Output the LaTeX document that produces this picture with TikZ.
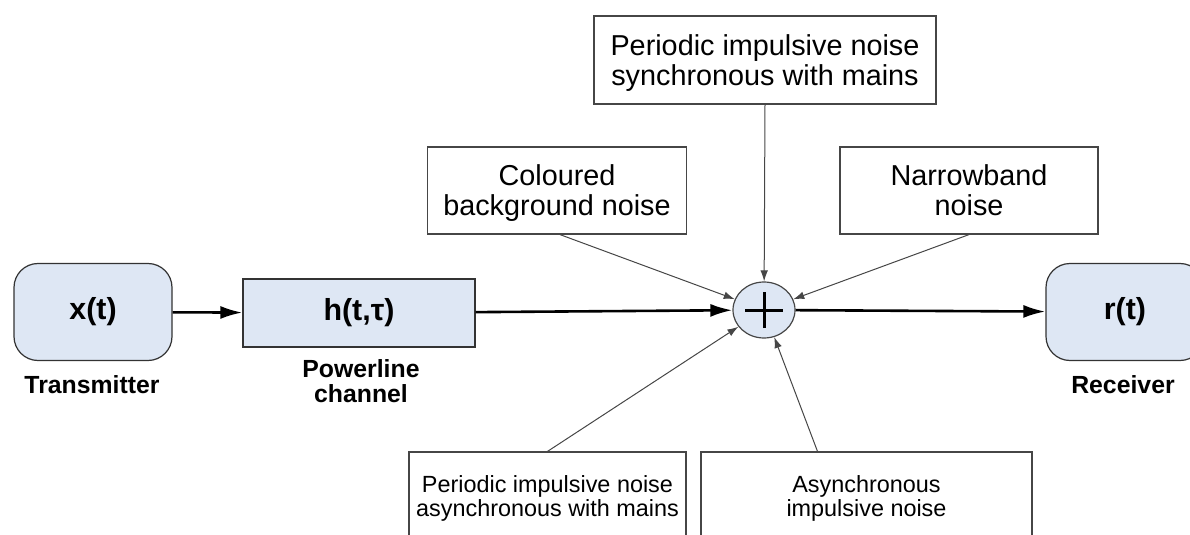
\documentclass[tikz,border=0pt]{standalone}
\usepackage{fontspec}
\setmainfont{Liberation Sans}
\usetikzlibrary{arrows.meta, shapes.geometric}
\definecolor{boxfill}{RGB}{222,231,244}
\definecolor{thinline}{RGB}{70,70,70}
\tikzset{
  noisebox/.style={draw=thinline, line width=0.6pt, fill=white, align=center, inner sep=0pt,
    text depth=0pt, font=\fontsize{14.4}{15}\selectfont},
  smallnoise/.style={noisebox, font=\fontsize{11.7}{12}\selectfont},
  blockbox/.style={draw=black!80, line width=0.6pt, fill=boxfill, inner sep=0pt,
    font=\fontsize{15.2}{17}\selectfont\bfseries},
  caption/.style={align=center, inner sep=0pt, font=\fontsize{12.4}{12.5}\selectfont\bfseries},
  mainflow/.style={-{Latex[length=11pt,width=6.5pt]}, line width=1.3pt},
  noiseflow/.style={-{Latex[length=5.5pt,width=3.8pt]}, line width=0.5pt, draw=thinline}
}
\begin{document}
\begin{tikzpicture}[x=0.5pt, y=-0.5pt]
  \useasboundingbox (0,0) rectangle (1190,535);
  \clip (0,0) rectangle (1190,535);
  % blocks of the chain
  \node[blockbox, rounded corners=12pt, minimum width=79pt, minimum height=48.5pt] (tx) at (93,312) {x(t)};
  \node[blockbox, minimum width=116pt, minimum height=34pt] (ch) at (359,313) {h(t,τ)};
  \node[draw=thinline, line width=0.6pt, fill=boxfill, ellipse, minimum width=31pt, minimum height=28pt, inner sep=0pt] (sum) at (764,310) {};
  \node[blockbox, rounded corners=12pt, minimum width=79pt, minimum height=48.5pt] (rx) at (1125,312) {r(t)};
  % plus sign
  \draw[line width=1.5pt] ([xshift=-9.5pt]sum.center) -- ([xshift=9.5pt]sum.center);
  \draw[line width=1.5pt] ([yshift=-9pt]sum.center) -- ([yshift=9pt]sum.center);
  % captions
  \node[caption] (txlbl) at (92,385) {Transmitter};
  \node[caption] (chlbl) at (361,381) {Powerline\\channel};
  \node[caption] (rxlbl) at (1123,385) {Receiver};
  % noise sources
  \node[noisebox, minimum width=171pt, minimum height=44pt] (pis) at (765,60) {Periodic impulsive noise\\synchronous with mains};
  \node[noisebox, minimum width=129.5pt, minimum height=43.5pt] (cbn) at (557,190.5) {Coloured\\background noise};
  \node[noisebox, minimum width=129pt, minimum height=43.5pt] (nbn) at (969,190.5) {Narrowband\\noise};
  \node[smallnoise, minimum width=138.5pt, minimum height=44pt] (pia) at (547.5,496) {Periodic impulsive noise\\asynchronous with mains};
  \node[smallnoise, minimum width=165.5pt, minimum height=44pt] (ain) at (866.5,496) {Asynchronous\\impulsive noise};
  % signal path
  \draw[mainflow] (tx) -- (ch);
  \draw[mainflow] (ch) -- (sum);
  \draw[mainflow] (sum) -- (rx);
  % noise inputs
  \draw[noiseflow] ([xshift=1.5pt]cbn.south) -- (sum);
  \draw[noiseflow] (pis.south) -- (sum);
  \draw[noiseflow] (nbn.south) -- (sum);
  \draw[noiseflow] (pia.north) -- (sum);
  \draw[noiseflow] ([xshift=-24.5pt]ain.north) -- (sum);
\end{tikzpicture}
\end{document}
